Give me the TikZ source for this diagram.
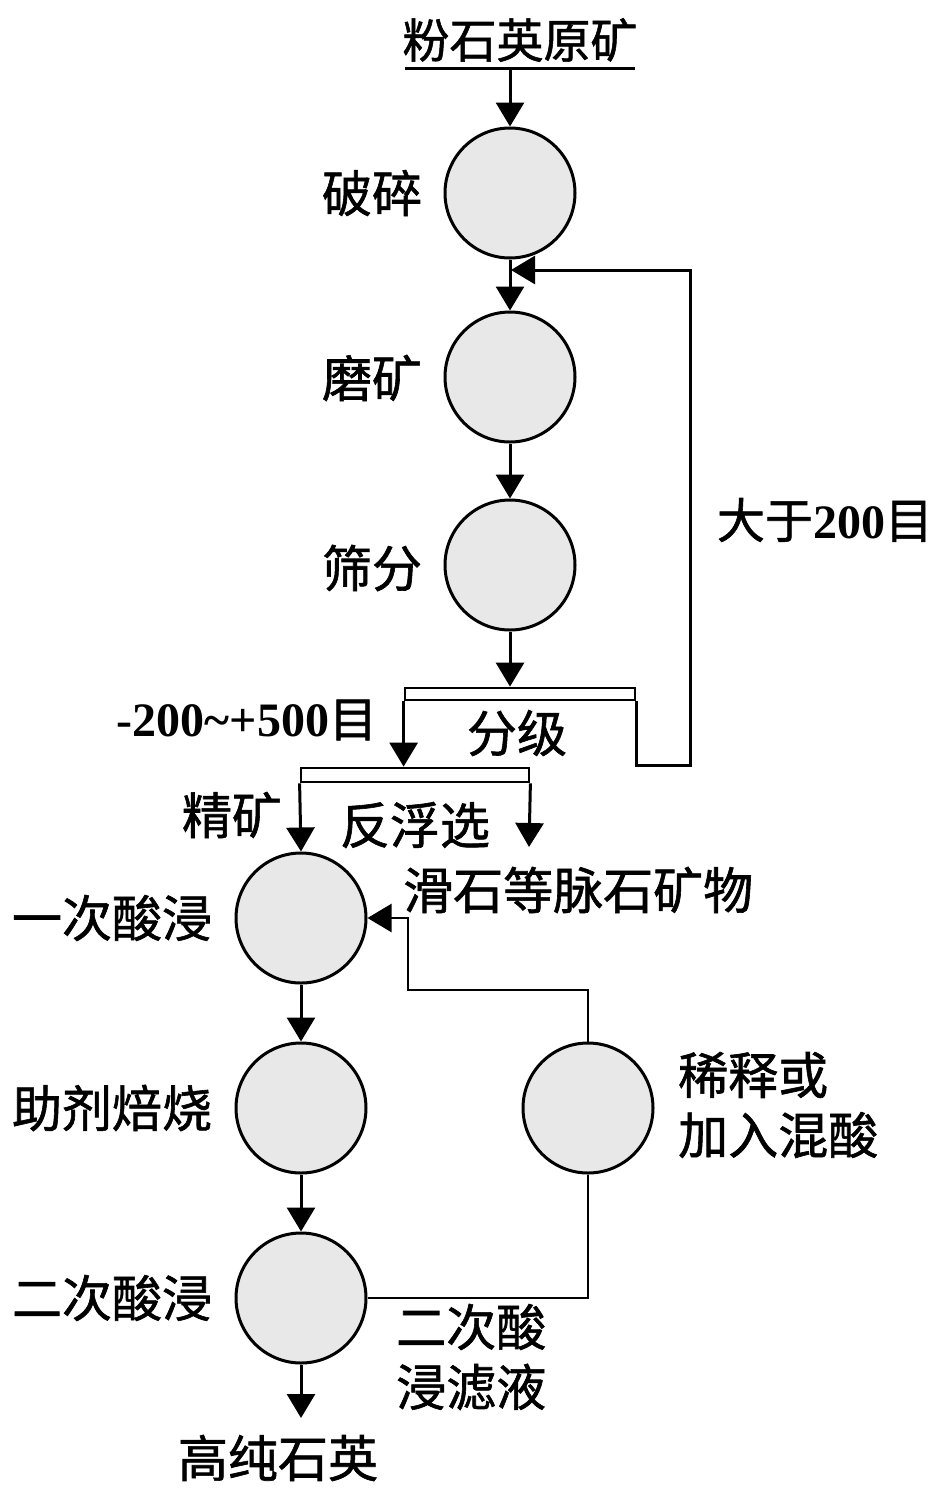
\documentclass[tikz,border=0pt]{standalone}
\usepackage{fontspec}
\setmainfont{Liberation Serif}
\newfontfamily\cjk{Noto Sans CJK SC}[FakeBold=1.2]
\usetikzlibrary{arrows.meta}
\tikzset{
  proc/.style={circle, draw, line width=3pt, fill=black!9, minimum size=130pt, inner sep=0pt},
  lbl/.style={font=\fontsize{50pt}{60pt}\selectfont\cjk, inner sep=0pt},
  numlbl/.style={font=\fontsize{48pt}{58pt}\selectfont\bfseries, inner sep=0pt},
  ln/.style={line width=3pt},
  thinln/.style={line width=2.4pt},
  arr/.style={line width=3pt, -{Triangle[width=28pt,length=24pt]}},
  arrthin/.style={line width=2.4pt, -{Triangle[width=28pt,length=24pt]}},
  bar/.style={draw, line width=2.8pt, inner sep=0pt}
}
\begin{document}
\begin{tikzpicture}[x=1pt,y=-1pt]
\useasboundingbox (0,0) rectangle (947,1492);
% top
\node[lbl, font=\fontsize{47pt}{58pt}\selectfont\cjk] (raw) at (520,40) {粉石英原矿};
\coordinate (ulL) at (405,68);
\coordinate (ulR) at (635,68);
\coordinate (top) at (510,68);
\draw[ln] (ulL) -- (ulR);
% circles
\node[proc] (c1) at (510,193) {};
\node[proc] (c2) at (510,377) {};
\node[proc] (c3) at (510,565) {};
\node[proc] (c4) at (301,918) {};
\node[proc] (c5) at (301,1108) {};
\node[proc] (c6) at (301,1298) {};
\node[proc] (c7) at (588,1108) {};
% labels
\node[lbl] (l1) at (372,193) {破碎};
\node[lbl] (l2) at (372,378) {磨矿};
\node[lbl] (l3) at (372,568) {筛分};
\node[lbl] (l4) at (112,918) {一次酸浸};
\node[lbl] (l5) at (112,1108) {助剂焙烧};
\node[lbl] (l6) at (112,1298) {二次酸浸};
\node[lbl, align=left, anchor=west] (l7) at (678,1105) {稀释或\\加入混酸};
\node[lbl, align=left, anchor=west] (l8) at (396,1357) {二次酸\\浸滤液};
\node[lbl] (l9) at (278,1458) {高纯石英};
\node[lbl, anchor=west] (l10) at (403,890) {滑石等脉石矿物};
\node[lbl] (l11) at (232,815) {精矿};
\node[lbl] (l12) at (415,825) {反浮选};
\node[lbl] (l13) at (517,733) {分级};
\node[numlbl] (l14) at (247,720) {-200\textasciitilde+500{\mdseries\cjk 目}};
\node[numlbl] (l15) at (825,520) {{\mdseries\cjk 大于}200{\mdseries\cjk 目}};
% bars
\node[bar, minimum width=230pt, minimum height=12pt] (bar1) at (520,694) {};
\node[bar, minimum width=228pt, minimum height=14pt] (bar2) at (415,775) {};
% main arrows
\draw[arr] (top) -- (c1.north);
\draw[arr] (c1.south) -- (c2.north);
\draw[arr] (c2.south) -- (c3.north);
\draw[arr] (c3.south) -- (c3.south |- bar1.north);
\draw[arr] (bar1.south west) -- (bar1.south west |- bar2.north);
% feedback
\coordinate (fbA) at (690,765);
\coordinate (fbB) at (690,270);
\coordinate (fbJ) at (511,270);
\draw[arr] (bar1.south east) |- (fbA) -- (fbB) -- (fbJ);
% flotation outputs
\coordinate (gangue) at (529,847);
\draw[arr] (bar2.south west) -- (c4.north);
\draw[arr] (bar2.south east) -- (gangue);
% lower chain
\draw[arr] (c4.south) -- (c5.north);
\draw[arr] (c5.south) -- (c6.north);
\coordinate (out) at (301,1418);
\draw[arr] (c6.south) -- (out);
% recycle
\coordinate (k) at (408,990);
\draw[arrthin] (c7.north) |- (k) |- (c4.east);
\draw[thinln] (c6.east) -| (c7.south);
\end{tikzpicture}
\end{document}
